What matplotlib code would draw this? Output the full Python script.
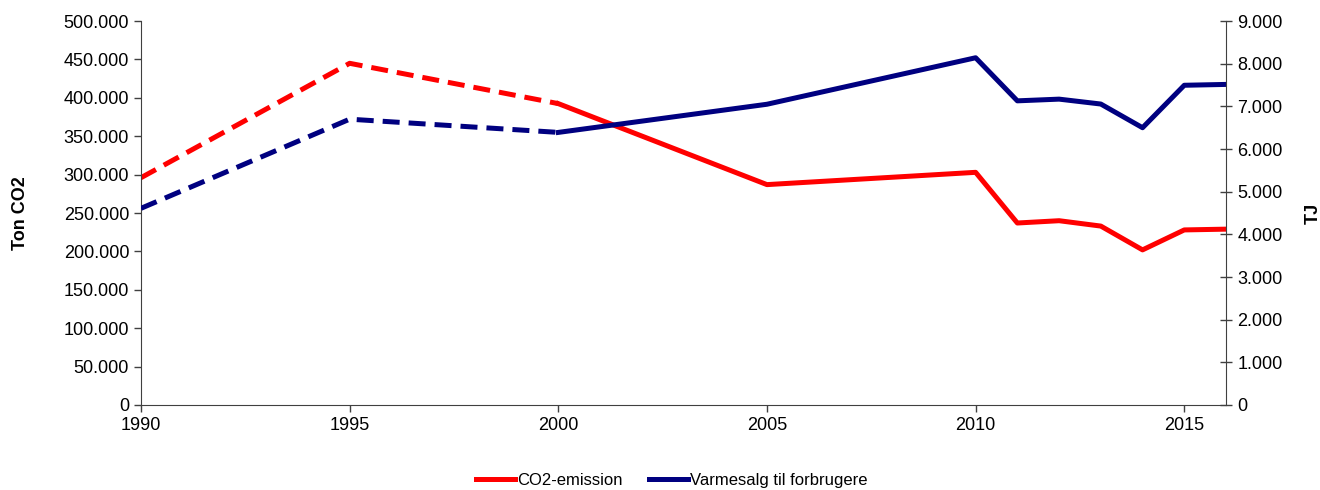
import matplotlib.pyplot as plt
from matplotlib.ticker import FuncFormatter, MultipleLocator

plt.rcParams['font.family'] = ['Liberation Sans', 'DejaVu Sans']

# --- Data ---
years = [1990, 1995, 2000, 2005, 2010, 2011, 2012, 2013, 2014, 2015, 2016]
co2 = [296000, 445000, 392500, 287000, 303000, 237000, 240000, 233000, 202000, 228000, 229000]
varme = [4610, 6700, 6390, 7050, 8140, 7130, 7170, 7055, 6500, 7495, 7515]
n_dashed = 3  # the first points (1990-2000) are drawn dashed

red = '#ff0000'
navy = '#000080'
lw = 3.6


def thousands(v, pos):
    return f'{int(round(v)):,}'.replace(',', '.')


fig = plt.figure(figsize=(13.2, 4.9), dpi=100)
ax = fig.add_axes([0.1068, 0.1735, 0.8220, 0.7835])
ax2 = ax.twinx()

# CO2 (left axis)
ax.plot(years[:n_dashed], co2[:n_dashed], color=red, lw=lw, dashes=(3.4, 1.8))
l1, = ax.plot(years[n_dashed - 1:], co2[n_dashed - 1:], color=red, lw=lw,
              label='CO2-emission')
# Varmesalg (right axis)
ax2.plot(years[:n_dashed], varme[:n_dashed], color=navy, lw=lw, dashes=(3.4, 1.8))
l2, = ax2.plot(years[n_dashed - 1:], varme[n_dashed - 1:], color=navy, lw=lw,
               label='Varmesalg til forbrugere')

ax.set_xlim(1990, 2016)
ax.set_ylim(0, 500000)
ax2.set_ylim(0, 9000)
ax.xaxis.set_major_locator(MultipleLocator(5))
ax.yaxis.set_major_locator(MultipleLocator(50000))
ax2.yaxis.set_major_locator(MultipleLocator(1000))
ax.yaxis.set_major_formatter(FuncFormatter(thousands))
ax2.yaxis.set_major_formatter(FuncFormatter(thousands))

for a in (ax, ax2):
    a.spines['top'].set_visible(False)
    a.tick_params(labelsize=13, color='#404040', length=5, width=1)
ax.spines['right'].set_visible(False)
ax2.spines['left'].set_visible(False)
ax.spines['left'].set_color('#404040')
ax.spines['bottom'].set_color('#404040')
ax2.spines['right'].set_color('#404040')
ax2.spines['bottom'].set_visible(False)
ax2.tick_params(axis='y', direction='inout', length=9)
ax.tick_params(axis='x', pad=4)

ax.set_ylabel('Ton CO2', fontsize=13, fontweight='bold', labelpad=25)
ax2.set_ylabel('TJ', fontsize=13, fontweight='bold', labelpad=16)

fig.legend(handles=[l1, l2], loc='center', bbox_to_anchor=(0.509, 0.02),
           ncol=2, frameon=False, fontsize=12, handlelength=2.3,
           handletextpad=0.15, columnspacing=1.6)

fig.savefig('out.png', dpi=100)
